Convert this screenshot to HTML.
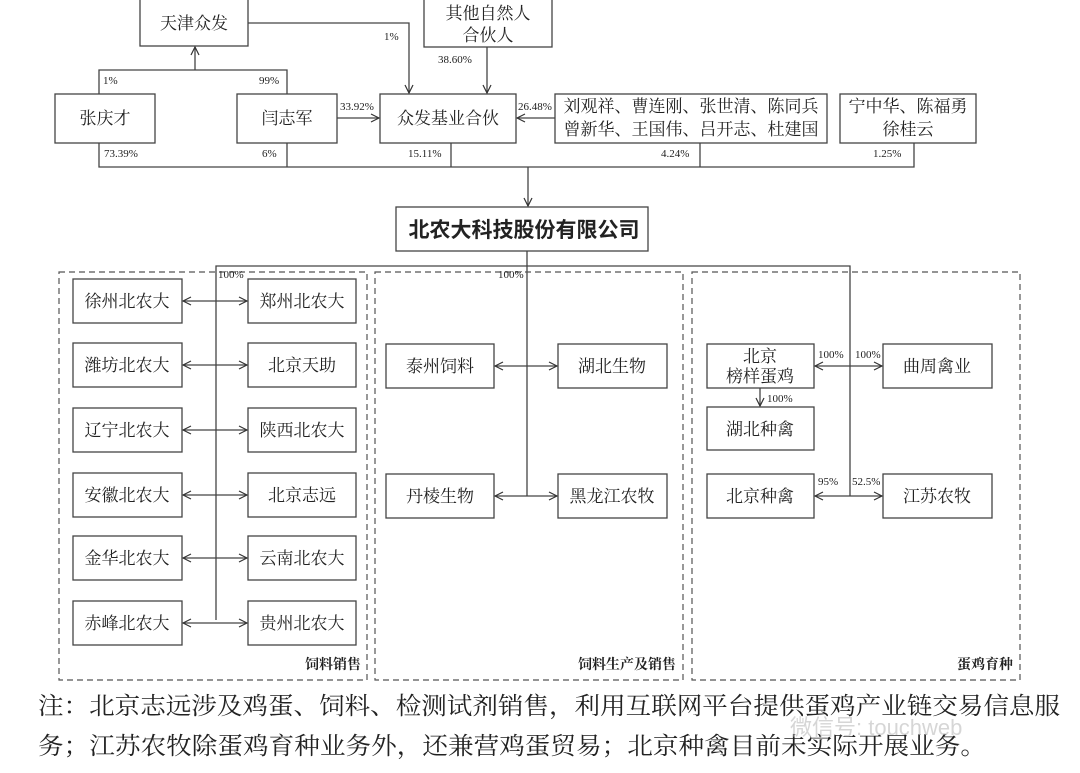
<!DOCTYPE html>
<html><head><meta charset="utf-8"><style>
html,body{margin:0;padding:0;background:#fff;}
svg{display:block;}
text{font-family:"Liberation Serif","Noto Serif CJK SC","Noto Sans CJK SC",serif;fill:#222;}
.b{font-size:17px;text-anchor:middle;}
.p{font-size:11px;font-family:"Liberation Serif",serif;}
</style></head><body>
<svg width="1080" height="773" viewBox="0 0 1080 773" xmlns="http://www.w3.org/2000/svg">
<defs><marker id="a" markerWidth="10" markerHeight="10" refX="9" refY="5" orient="auto-start-reverse" markerUnits="userSpaceOnUse"><path d="M1,1 L9,5 L1,9" fill="none" stroke="#333" stroke-width="1.2"/></marker></defs>
<g fill="none" stroke="#444" stroke-width="1.3">
<rect x="140" y="-2" width="108" height="48"/>
<rect x="424" y="-2" width="128" height="49"/>
<rect x="55" y="94" width="100" height="49"/>
<rect x="237" y="94" width="100" height="49"/>
<rect x="380" y="94" width="136" height="49"/>
<rect x="555" y="94" width="272" height="49"/>
<rect x="840" y="94" width="136" height="49"/>
<rect x="396" y="207" width="252" height="44"/>
<path d="M99,94 V70 H287 V94"/>
<path d="M195,70 V47" marker-end="url(#a)"/>
<path d="M248,23 H409 V93" marker-end="url(#a)"/>
<path d="M487,47 V93" marker-end="url(#a)"/>
<path d="M337,118 H379" marker-end="url(#a)"/>
<path d="M555,118 H517" marker-end="url(#a)"/>
<path d="M99,143 V167 H914 V143 M287,143 V167 M451,143 V167 M700,143 V167"/>
<path d="M528,167 V206" marker-end="url(#a)"/>
<path d="M527,251 V496 M216,620 V266 H850 V496"/>
</g>
<g fill="none" stroke="#555" stroke-width="1.2" stroke-dasharray="6,4">
<rect x="59" y="272" width="308" height="408"/>
<rect x="375" y="272" width="308" height="408"/>
<rect x="692" y="272" width="328" height="408"/>
</g>
<g fill="none" stroke="#444" stroke-width="1.3">
<rect x="73" y="279" width="109" height="44"/><rect x="248" y="279" width="108" height="44"/>
<rect x="73" y="343" width="109" height="44"/><rect x="248" y="343" width="108" height="44"/>
<rect x="73" y="408" width="109" height="44"/><rect x="248" y="408" width="108" height="44"/>
<rect x="73" y="473" width="109" height="44"/><rect x="248" y="473" width="108" height="44"/>
<rect x="73" y="536" width="109" height="44"/><rect x="248" y="536" width="108" height="44"/>
<rect x="73" y="601" width="109" height="44"/><rect x="248" y="601" width="108" height="44"/>
<rect x="386" y="344" width="108" height="44"/><rect x="558" y="344" width="109" height="44"/>
<rect x="386" y="474" width="108" height="44"/><rect x="558" y="474" width="109" height="44"/>
<rect x="707" y="344" width="107" height="44"/><rect x="883" y="344" width="109" height="44"/>
<rect x="707" y="407" width="107" height="43"/>
<rect x="707" y="474" width="107" height="44"/><rect x="883" y="474" width="109" height="44"/>
<g marker-start="url(#a)" marker-end="url(#a)">
<path d="M183,301 H247"/><path d="M183,365 H247"/><path d="M183,430 H247"/><path d="M183,495 H247"/><path d="M183,558 H247"/><path d="M183,623 H247"/>
<path d="M495,366 H557"/><path d="M495,496 H557"/>
<path d="M815,366 H882"/><path d="M815,496 H882"/>
</g>
<path d="M760,388 V406" marker-end="url(#a)"/>
</g>
<text class="b" x="194" y="29">天津众发</text>
<text class="b" x="488" y="19">其他自然人</text>
<text class="b" x="488" y="41">合伙人</text>
<text class="b" x="105" y="124">张庆才</text>
<text class="b" x="287" y="124">闫志军</text>
<text class="b" x="448" y="124">众发基业合伙</text>
<text class="b" x="691" y="112">刘观祥、曹连刚、张世清、陈同兵</text>
<text class="b" x="691" y="135">曾新华、王国伟、吕开志、杜建国</text>
<text class="b" x="908" y="112">宁中华、陈福勇</text>
<text class="b" x="908" y="135">徐桂云</text>
<text x="524" y="237" style="font-size:21px;font-weight:bold;text-anchor:middle;font-family:'Liberation Sans','Noto Sans CJK SC',sans-serif;">北农大科技股份有限公司</text>
<text class="p" x="384" y="40">1%</text>
<text class="p" x="438" y="63">38.60%</text>
<text class="p" x="103" y="84">1%</text>
<text class="p" x="259" y="84">99%</text>
<text class="p" x="340" y="110">33.92%</text>
<text class="p" x="518" y="110">26.48%</text>
<text class="p" x="104" y="157">73.39%</text>
<text class="p" x="262" y="157">6%</text>
<text class="p" x="408" y="157">15.11%</text>
<text class="p" x="661" y="157">4.24%</text>
<text class="p" x="873" y="157">1.25%</text>
<text class="p" x="218" y="278">100%</text>
<text class="p" x="498" y="278">100%</text>
<text class="p" x="818" y="358">100%</text>
<text class="p" x="855" y="358">100%</text>
<text class="p" x="767" y="402">100%</text>
<text class="p" x="818" y="485">95%</text>
<text class="p" x="852" y="485">52.5%</text>
<text class="b" x="127" y="307">徐州北农大</text><text class="b" x="302" y="307">郑州北农大</text>
<text class="b" x="127" y="371">潍坊北农大</text><text class="b" x="302" y="371">北京天助</text>
<text class="b" x="127" y="436">辽宁北农大</text><text class="b" x="302" y="436">陕西北农大</text>
<text class="b" x="127" y="501">安徽北农大</text><text class="b" x="302" y="501">北京志远</text>
<text class="b" x="127" y="564">金华北农大</text><text class="b" x="302" y="564">云南北农大</text>
<text class="b" x="127" y="629">赤峰北农大</text><text class="b" x="302" y="629">贵州北农大</text>
<text class="b" x="440" y="372">泰州饲料</text><text class="b" x="612" y="372">湖北生物</text>
<text class="b" x="440" y="502">丹棱生物</text><text class="b" x="612" y="502">黑龙江农牧</text>
<text class="b" x="760" y="362">北京</text><text class="b" x="760" y="382">榜样蛋鸡</text>
<text class="b" x="937" y="372">曲周禽业</text>
<text class="b" x="760" y="435">湖北种禽</text>
<text class="b" x="760" y="502">北京种禽</text><text class="b" x="937" y="502">江苏农牧</text>
<g style="font-size:14px;font-weight:bold;text-anchor:end;font-family:'Liberation Sans','Noto Sans CJK SC',sans-serif;">
<text x="361" y="669">饲料销售</text>
<text x="676" y="669">饲料生产及销售</text>
<text x="1013" y="669">蛋鸡育种</text>
</g>
<g style="font-size:24px;font-family:'Liberation Serif','Noto Serif CJK SC',serif;">
<text x="38" y="714" textLength="1022" lengthAdjust="spacingAndGlyphs">注：北京志远涉及鸡蛋、饲料、检测试剂销售，利用互联网平台提供蛋鸡产业链交易信息服</text>
<text x="38" y="754" textLength="948" lengthAdjust="spacingAndGlyphs">务；江苏农牧除蛋鸡育种业务外，还兼营鸡蛋贸易；北京种禽目前未实际开展业务。</text>
</g>
<text x="790" y="735" style="font-size:22px;fill:#bbb;opacity:0.6;font-family:'Liberation Sans','Noto Sans CJK SC',sans-serif;">微信号: touchweb</text>
</svg>
</body></html>
